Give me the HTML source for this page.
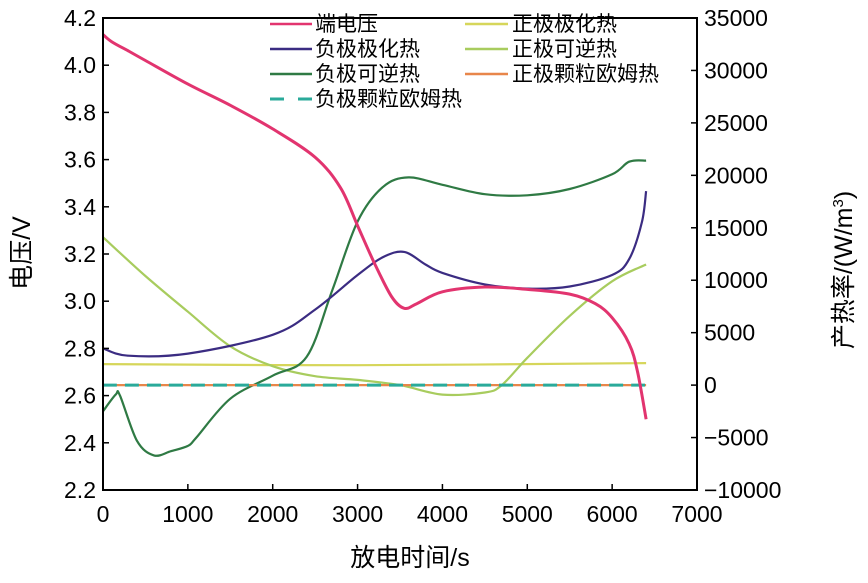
<!DOCTYPE html>
<html><head><meta charset="utf-8"><style>
body{margin:0;background:#fff}
svg text{font-family:"Liberation Sans","Noto Sans CJK SC",sans-serif}
</style></head><body>
<svg id="c" width="868" height="578"></svg>
<script>
const xTicks=[0,1000,2000,3000,4000,5000,6000,7000];
const yLTicks=[2.2,2.4,2.6,2.8,3.0,3.2,3.4,3.6,3.8,4.0,4.2];
const yRTicks=[-10000,-5000,0,5000,10000,15000,20000,25000,30000,35000];
const vT=[0,100,300,500,1000,1500,2000,2500,2800,3000,3200,3400,3550,3700,4000,4500,5000,5500,5800,6000,6200,6300,6400];
const vV=[4.13,4.10,4.06,4.02,3.92,3.83,3.73,3.61,3.48,3.32,3.16,3.02,2.97,2.99,3.04,3.06,3.05,3.03,2.99,2.93,2.82,2.70,2.50];
const npT=[0,300,1000,2000,2500,3000,3300,3550,3800,4000,4500,5000,5500,6000,6200,6350,6400];
const npV=[3500,2800,3000,4800,7200,10500,12200,12700,11500,10700,9600,9200,9400,10500,12000,15500,18500];
const ppT=[0,3000,6400];
const ppV=[2000,1900,2100];
const prT=[0,500,1000,1500,2000,2500,3000,3500,4000,4500,4700,5000,5500,6000,6400];
const prV=[14100,10400,7000,3700,1800,850,500,0,-900,-700,0,2600,6600,9900,11500];
const nrT=[0,150,200,400,600,800,1000,1100,1500,2000,2400,2700,3000,3300,3600,4000,4500,5000,5500,6000,6200,6400];
const nrV=[-2500,-900,-1000,-5300,-6700,-6300,-5800,-5000,-1300,900,2700,9000,15600,18900,19800,19100,18200,18100,18700,20100,21300,21400];
const ohT=[0,6400];
const ohV=[0,0];
const X0=103,X1=697,Y0=490,Y1=18;
const sx=v=>X0+(v/7000)*(X1-X0);
const syL=v=>Y0-(v-2.2)/2.0*(Y0-Y1);
const syR=v=>Y0-(v+10000)/45000*(Y0-Y1);
const svg=document.getElementById('c');
const NS='http://www.w3.org/2000/svg';
function mk(t,a,txt){const e=document.createElementNS(NS,t);for(const k in a)e.setAttribute(k,a[k]);if(txt!==undefined)e.textContent=txt;svg.appendChild(e);return e;}
function path(T,V,sy,col,name,dash,w){
 const P=T.map((t,i)=>[sx(t),sy(V[i])]);
 let d='M'+P[0][0].toFixed(1)+','+P[0][1].toFixed(1);
 for(let i=0;i<P.length-1;i++){
  const p0=P[Math.max(i-1,0)],p1=P[i],p2=P[i+1],p3=P[Math.min(i+2,P.length-1)];
  const c1=[p1[0]+(p2[0]-p0[0])/6,p1[1]+(p2[1]-p0[1])/6];
  const c2=[p2[0]-(p3[0]-p1[0])/6,p2[1]-(p3[1]-p1[1])/6];
  d+='C'+c1.map(v=>v.toFixed(1)).join(',')+' '+c2.map(v=>v.toFixed(1)).join(',')+' '+p2[0].toFixed(1)+','+p2[1].toFixed(1);
 }
 const p=mk('path',{d:d,fill:'none',stroke:col,'stroke-width':w||2.2,'stroke-linejoin':'round'});
 if(dash)p.setAttribute('stroke-dasharray',dash);
 
 
}
path(ppT,ppV,syR,'#d6d65a','series-pos-polarization');
path(prT,prV,syR,'#a8cc5e','series-pos-reversible');
path(nrT,nrV,syR,'#2f7a44','series-neg-reversible');
path(npT,npV,syR,'#3b2c82','series-neg-polarization');
path(ohT,ohV,syR,'#e8864a','series-pos-ohmic');
path(ohT,ohV,syR,'#2aaa9a','series-neg-ohmic','14,8',3);
path(vT,vV,syL,'#e2346f','series-voltage',null,3);
const fr=mk('rect',{x:X0,y:Y1,width:X1-X0,height:Y0-Y1,fill:'none',stroke:'#000','stroke-width':2});

xTicks.forEach(t=>{mk('line',{x1:sx(t),x2:sx(t),y1:Y0,y2:Y0-6,stroke:'#000','stroke-width':1.5});
 const e=mk('text',{x:sx(t),y:Y0+32,'font-size':23,'text-anchor':'middle'},t);
 });
yLTicks.forEach(t=>{mk('line',{x1:X0,x2:X0+6,y1:syL(t),y2:syL(t),stroke:'#000','stroke-width':1.5});
 const e=mk('text',{x:X0-7,y:syL(t)+8,'font-size':23,'text-anchor':'end'},t.toFixed(1));
 });
yRTicks.forEach(t=>{mk('line',{x1:X1,x2:X1-6,y1:syR(t),y2:syR(t),stroke:'#000','stroke-width':1.5});
 const e=mk('text',{x:X1+7,y:syR(t)+8,'font-size':23,'text-anchor':'start'},t<0?'\u2212'+(-t):t);
 });
</script>
<svg width="868" height="578" style="position:absolute;left:0;top:0">
<g font-family="Liberation Sans,Noto Sans CJK SC,sans-serif">
<text x="410" y="566" font-size="25" text-anchor="middle">放电时间/s</text>
<text transform="translate(30,253) rotate(-90)" font-size="25" text-anchor="middle">电压/V</text>
<text transform="translate(852,270) rotate(-90)" font-size="25" text-anchor="middle">产热率/(W/m<tspan dy="-9" font-size="15">3</tspan><tspan dy="9">)</tspan></text>
<g font-size="21">
<line x1="270" y1="24" x2="312" y2="24" stroke="#e2346f" stroke-width="2.5"/><text x="315" y="31">端电压</text>
<line x1="270" y1="49" x2="312" y2="49" stroke="#3b2c82" stroke-width="2.5"/><text x="315" y="56">负极极化热</text>
<line x1="270" y1="74" x2="312" y2="74" stroke="#2f7a44" stroke-width="2.5"/><text x="315" y="81">负极可逆热</text>
<line x1="270" y1="99" x2="312" y2="99" stroke="#2aaa9a" stroke-width="3" stroke-dasharray="14,14"/><text x="315" y="106">负极颗粒欧姆热</text>
<line x1="465" y1="24" x2="508" y2="24" stroke="#d6d65a" stroke-width="2.5"/><text x="512" y="31">正极极化热</text>
<line x1="465" y1="49" x2="508" y2="49" stroke="#a8cc5e" stroke-width="2.5"/><text x="512" y="56">正极可逆热</text>
<line x1="465" y1="74" x2="508" y2="74" stroke="#e8864a" stroke-width="2.5"/><text x="512" y="81">正极颗粒欧姆热</text>
</g></g></svg>
</body></html>
